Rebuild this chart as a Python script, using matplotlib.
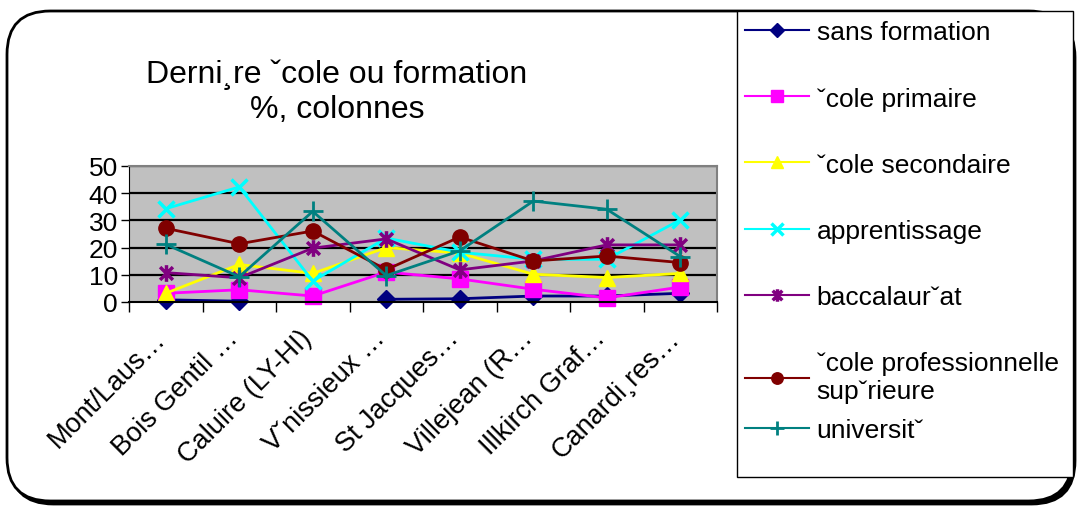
import numpy as np
import matplotlib
matplotlib.use("Agg")
import matplotlib.pyplot as plt
import matplotlib.transforms as mtransforms
from matplotlib.path import Path
from matplotlib.patches import FancyBboxPatch, Rectangle

plt.rcParams['font.family'] = ['Liberation Sans', 'DejaVu Sans']

# sites (x axis) and series values in %
sites = ["Mont/Laus…", "Bois Gentil …", "Caluire (LY-HI)", "Vˇnissieux …",
         "St Jacques…", "Villejean (R…", "Illkirch Graf…", "Canardi¸res…"]

sans_formation = [0.8, 0.3, np.nan, 1.0, 1.2, 2.2, 2.2, 3.2]
cole_primaire = [3.2, 4.5, 2.2, 11.0, 8.5, 4.7, 1.5, 5.5]
cole_secondaire = [3.2, 13.8, 10.5, 20.0, 18.0, 10.2, 9.0, 10.5]
apprentissage = [34.3, 42.3, 7.7, 23.5, 18.3, 15.7, 15.7, 30.2]
baccalaureat = [10.8, 8.9, 19.8, 23.2, 11.8, 15.1, 21.0, 21.0]
pro_superieure = [27.1, 21.4, 26.1, 11.9, 23.9, 15.1, 16.9, 14.5]
universite = [21.2, 9.3, 33.3, 9.7, 18.8, 37.1, 34.1, 16.7]

labels = ["sans formation", "ˇcole primaire", "ˇcole secondaire", "apprentissage",
          "baccalaurˇat", "ˇcole professionnelle\nsupˇrieure", "universitˇ"]

# asterisk marker: an x with a vertical bar
star = Path([(-1, -1), (1, 1), (-1, 1), (1, -1), (0, -1.3), (0, 1.3)],
            [Path.MOVETO, Path.LINETO] * 3)

styles = [
    dict(color="#000080", marker="D", ms=9),
    dict(color="#FF00FF", marker="s", ms=11),
    dict(color="#FFFF00", marker="^", ms=12),
    dict(color="#00FFFF", marker="x", ms=12, mew=2.5),
    dict(color="#800080", marker=star, ms=12, mew=2.5),
    dict(color="#800000", marker="o", ms=11),
    dict(color="#008080", marker="+", ms=14, mew=2),
]

series = [sans_formation, cole_primaire, cole_secondaire, apprentissage,
          baccalaureat, pro_superieure, universite]

W, H = 1083, 510
fig = plt.figure(figsize=(W / 100, H / 100), dpi=100)

# outer rounded frame with a small shadow
shadow = FancyBboxPatch((10 / W, 5 / H), 1065 / W, 490 / H,
                        boxstyle="round,pad=0,rounding_size=0.04",
                        transform=fig.transFigure, facecolor="black",
                        edgecolor="black", lw=2, mutation_aspect=W / H,
                        zorder=-2)
frame = FancyBboxPatch((7 / W, 8 / H), 1065 / W, 490 / H,
                       boxstyle="round,pad=0,rounding_size=0.04",
                       transform=fig.transFigure, facecolor="white",
                       edgecolor="black", lw=2, mutation_aspect=W / H,
                       zorder=-1)
fig.patches.extend([shadow, frame])

ax = fig.add_axes([129 / W, (H - 303) / H, 588 / W, 136 / H])
ax.set_facecolor("#C0C0C0")

x = np.arange(len(sites))
handles = []
for vals, lab, st in zip(series, labels, styles):
    st = dict(st)
    c = st.pop("color")
    mew = st.pop("mew", 1)
    h, = ax.plot(x, vals, color=c, lw=2, marker=st["marker"], markersize=st["ms"],
                 markerfacecolor=c, markeredgecolor=c, markeredgewidth=mew,
                 label=lab, clip_on=False)
    handles.append(h)

ax.set_xlim(-0.5, len(sites) - 0.5)
ax.set_ylim(0, 50)
ax.set_yticks(range(0, 51, 10))
for yv in range(10, 51, 10):
    ax.axhline(yv, color="black", lw=1.6, zorder=0.5)

ax.set_xticks(np.arange(-0.5, len(sites), 1))
ax.set_xticklabels([])
ax.set_xticks(x, minor=True)
ax.set_xticklabels(sites, minor=True, rotation=45, ha="right",
                   rotation_mode="anchor", fontsize=19.5)
ax.tick_params(axis="x", which="minor", length=0, pad=10)
ax.tick_params(axis="x", which="major", length=7, width=1, direction="out")
ax.tick_params(axis="y", length=6, width=1, labelsize=19, pad=2)
shift = mtransforms.ScaledTranslation(-0.14, -0.09, fig.dpi_scale_trans)
for t in ax.get_xticklabels(minor=True):
    t.set_transform(t.get_transform() + shift)

for side in ["top", "right"]:
    ax.spines[side].set_color("#808080")
    ax.spines[side].set_linewidth(1.5)
ax.spines["left"].set_color("black")
ax.spines["bottom"].set_color("black")
ax.spines["bottom"].set_linewidth(1.5)

fig.text(337 / W, (H - 92) / H, "Derni¸re ˇcole ou formation\n%, colonnes",
         ha="center", va="center", fontsize=23, linespacing=1.2)

# legend box
fig.patches.append(Rectangle((737 / W, (H - 478) / H), 336 / W, 466 / H,
                             transform=fig.transFigure, facecolor="white",
                             edgecolor="black", lw=1))
leg_kw = dict(loc="upper left", frameon=False, fontsize=19, handlelength=2.4,
              handletextpad=0.3, borderaxespad=0, borderpad=0.2)
leg1 = fig.legend(handles=handles[:6], bbox_to_anchor=(740 / W, (H - 16) / H),
                  labelspacing=1.6, **leg_kw)
leg2 = fig.legend(handles=handles[6:], bbox_to_anchor=(740 / W, (H - 414) / H),
                  **leg_kw)
for leg in (leg1, leg2):
    for lh in leg.legend_handles:
        lh.set_markersize(lh.get_markersize() * 0.75)
        lh.set_linewidth(1.5)

fig.savefig("out.png", dpi=100)
